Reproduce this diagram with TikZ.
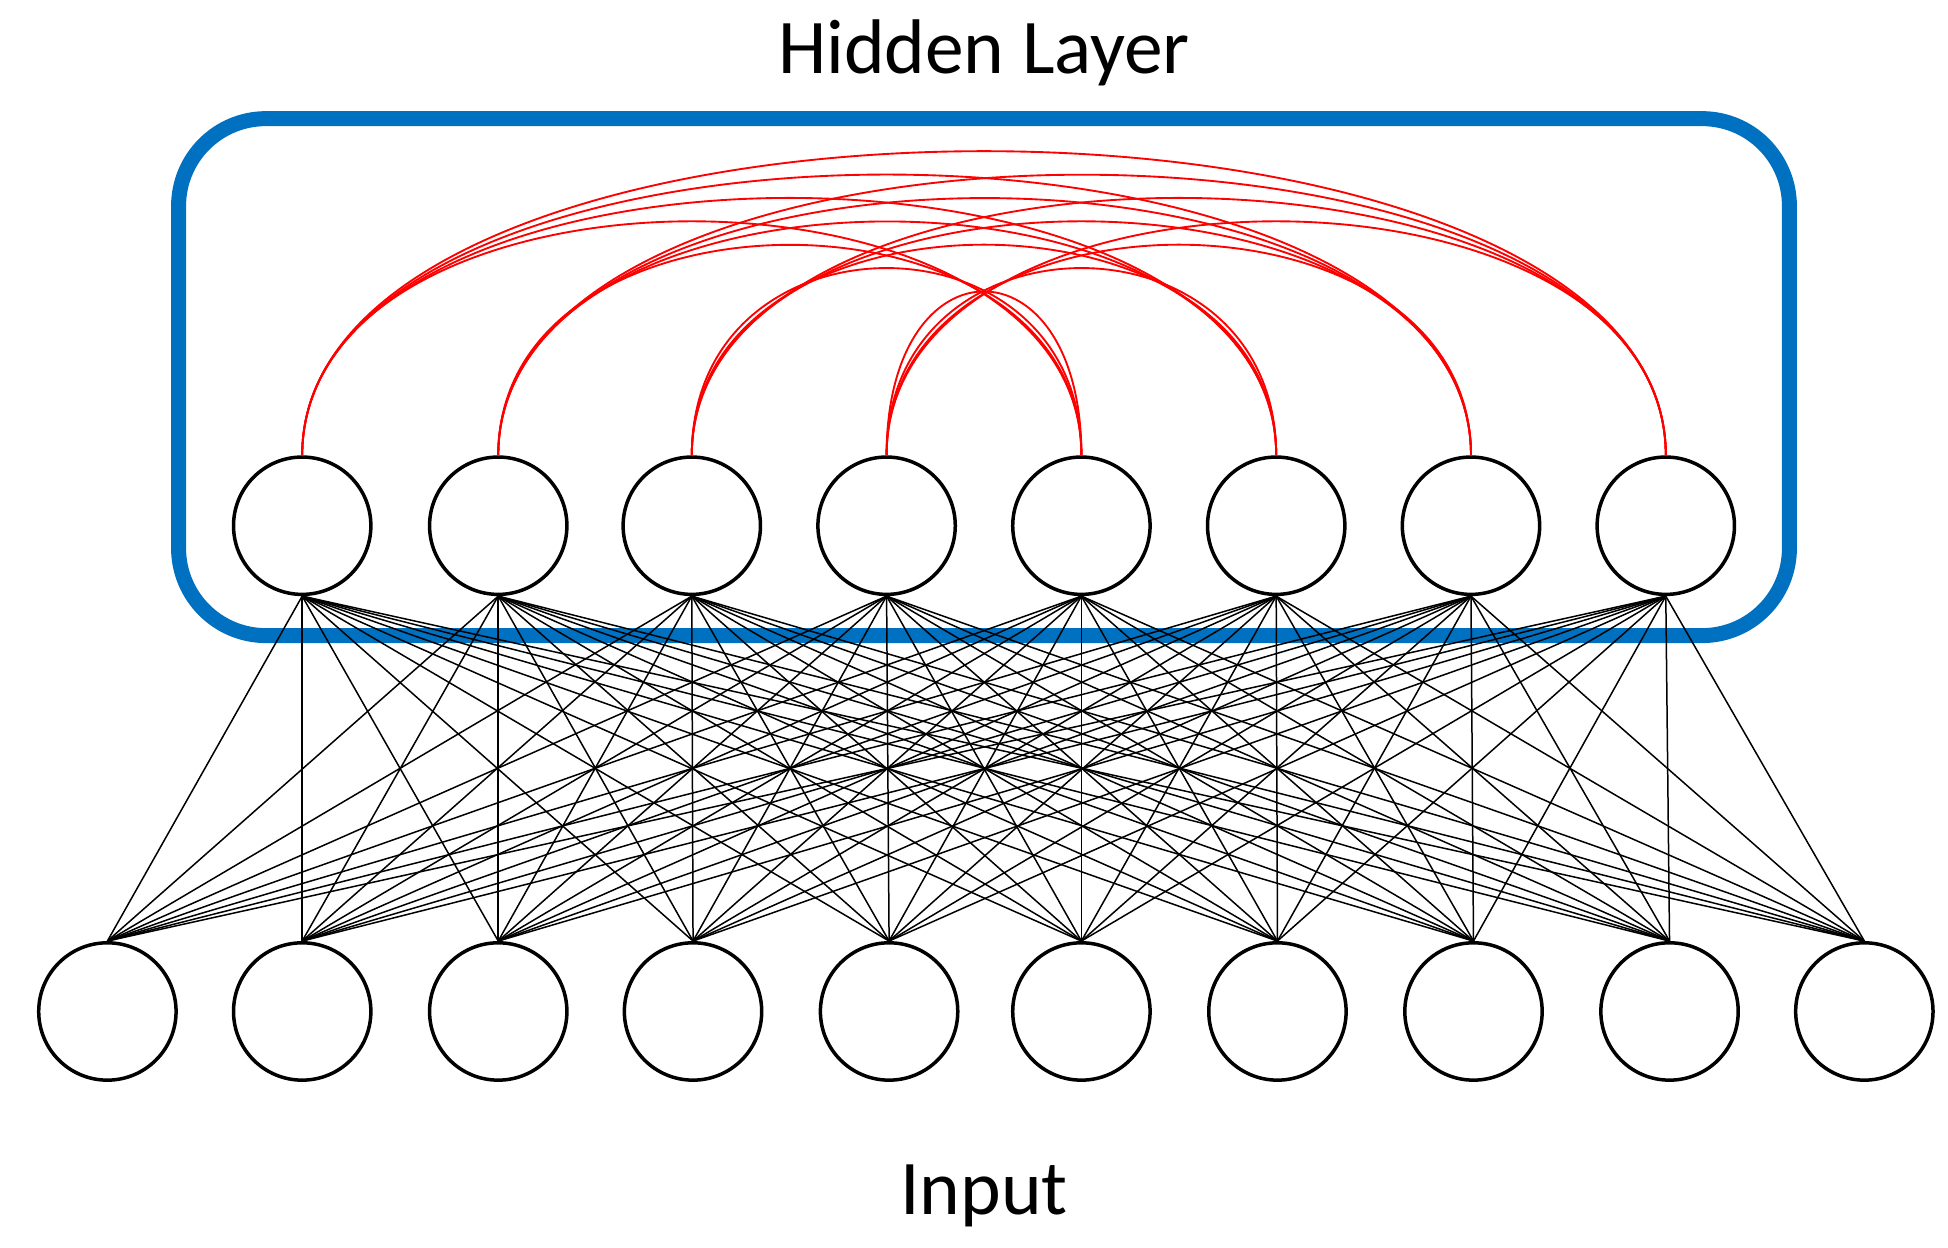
\documentclass[tikz,border=0pt]{standalone}
\usepackage{fontspec}
\setmainfont{Carlito}
\usetikzlibrary{calc}
\definecolor{boxblue}{RGB}{0,112,192}
\begin{document}
\begin{tikzpicture}[x=1pt,y=-1pt,
  neuron/.style={circle,draw=black,line width=2.8pt,minimum size=110pt,inner sep=0pt},
  conn/.style={line width=1.2pt,black},
  rec/.style={line width=1.5pt,red},
  lbl/.style={font=\fontsize{62}{70}\selectfont}]
\useasboundingbox (0,0) rectangle (1560,999);
\draw[boxblue,line width=12pt,rounded corners=70pt] (143,95) rectangle (1433,509);
\foreach \x [count=\i] in {242,399,554,710,866,1022,1178,1334}
  \node[neuron] (h\i) at (\x,421) {};
\foreach \x [count=\i] in {86,242,399,555,712,866,1023,1180,1337,1493}
  \node[neuron] (in\i) at (\x,810) {};
\foreach \i in {1,...,10}
  \foreach \j in {1,...,8}
    \draw[conn] (in\i.north) -- (h\j.south);
\foreach \a/\xa in {1/242,2/399,3/554,4/710}
  \foreach \b/\xb in {5/866,6/1022,7/1178,8/1334}{
    \pgfmathsetmacro{\hh}{150+0.16*(\xb-\xa)}
    \draw[rec] (h\a.north) .. controls ($(h\a.north)+(0,-\hh)$) and ($(h\b.north)+(0,-\hh)$) .. (h\b.north);
  }
\node[lbl] (title) at (788,42) {Hidden Layer};
\node[lbl] (inp) at (788,958) {Input};
\end{tikzpicture}
\end{document}
